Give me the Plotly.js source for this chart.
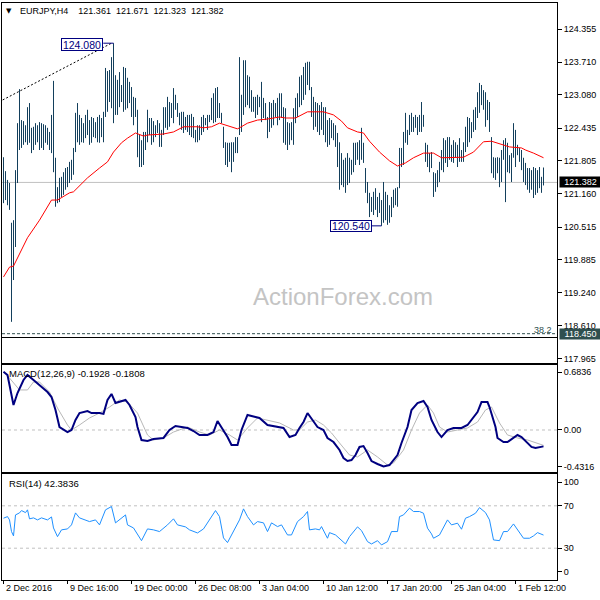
<!DOCTYPE html>
<html><head><meta charset="utf-8">
<script src="https://cdn.plot.ly/plotly-3.0.1.min.js"></script>
<style>html,body{margin:0;padding:0;background:#fff}#chart{width:600px;height:600px}</style>
</head><body><div id="chart"></div>
<script>
// EURJPY H4 bars (index 0 = 2 Dec 2016)
const highs = [
121.87,121.60,121.43,121.37,120.60,120.65,121.62,122.53,123.19,122.59,
122.57,122.49,122.84,122.92,122.44,122.46,122.53,122.49,122.55,122.53,
122.51,122.49,122.44,122.36,122.69,123.35,121.86,121.29,121.47,121.49,
121.58,121.66,121.68,121.78,121.82,122.05,122.73,122.92,122.69,122.63,
122.53,122.69,122.79,122.59,122.65,122.63,122.55,122.65,122.69,122.63,
122.75,123.60,123.54,123.56,123.81,124.08,123.46,123.37,123.52,123.27,
123.62,123.60,123.41,123.33,123.23,123.04,123.02,122.79,122.30,122.20,
122.36,122.36,122.79,122.63,122.63,122.57,122.49,122.59,122.53,122.40,
122.84,122.84,123.04,122.94,122.92,123.21,123.08,122.92,122.73,122.75,
122.75,122.65,122.69,122.69,122.71,122.65,122.40,122.49,122.49,122.65,
122.69,122.63,122.69,122.69,123.02,123.11,123.21,123.23,122.92,122.73,
122.46,122.16,122.15,122.15,122.16,122.16,122.26,122.26,123.81,123.08,
123.75,123.75,123.46,123.43,123.17,123.04,123.04,123.08,123.04,123.33,
123.02,122.92,122.65,122.94,122.92,122.98,122.92,123.02,123.11,123.11,
122.84,122.82,122.55,122.53,122.55,122.82,123.02,123.11,123.43,123.46,
123.62,123.70,123.72,123.72,123.23,123.04,122.94,122.92,122.88,122.94,
122.84,122.84,122.59,122.63,122.59,122.53,122.49,122.34,122.16,121.95,
121.82,121.86,121.95,121.86,121.82,122.15,122.15,122.16,122.20,122.44,
122.15,121.66,121.39,121.18,121.10,121.20,121.27,121.10,121.18,121.04,
121.39,121.20,121.14,120.94,121.10,121.24,121.27,121.29,122.05,122.05,
122.36,122.73,122.40,122.69,122.73,122.65,122.69,122.65,122.69,122.94,
122.69,122.15,122.11,121.95,121.97,121.58,121.56,121.62,121.78,122.01,
122.24,122.20,122.26,122.26,122.11,122.20,122.16,122.11,122.24,122.01,
122.16,122.46,122.65,122.63,122.55,122.79,122.84,123.13,123.31,123.27,
123.17,123.13,122.98,122.94,122.26,121.87,121.86,121.87,121.86,122.01,
122.20,122.24,122.15,121.91,121.95,122.53,122.40,122.11,122.05,122.01,
121.86,121.76,121.66,121.66,121.62,121.68,121.66,121.62,121.68,121.49,
121.671];
const lows = [
120.98,121.04,120.94,120.85,118.68,119.49,120.13,121.37,122.01,122.05,
122.11,122.16,122.11,122.15,121.95,122.01,122.11,122.16,122.01,122.05,
122.01,122.15,122.11,122.01,121.95,121.58,120.91,120.98,121.00,121.10,
121.14,121.24,121.29,121.37,121.43,121.53,121.97,122.16,122.11,122.16,
122.15,122.24,122.30,122.11,122.15,122.26,122.24,122.16,122.15,122.26,
122.16,122.65,122.75,122.94,122.82,122.53,122.69,122.69,122.84,122.94,
122.75,122.79,122.82,122.92,122.65,122.49,122.65,121.87,121.68,121.68,
121.72,122.01,122.16,122.30,122.11,122.16,122.26,122.34,122.07,122.07,
122.30,122.44,122.40,122.46,122.63,122.53,122.79,122.65,122.49,122.40,
122.34,122.40,122.36,122.30,122.26,122.24,122.16,122.16,122.20,122.30,
122.36,122.49,122.40,122.55,122.59,122.53,122.55,122.63,122.63,122.53,
122.05,121.72,121.68,121.78,121.58,121.78,121.95,121.95,122.30,122.36,
122.69,122.84,122.88,122.82,122.75,122.75,122.63,122.69,122.84,122.55,
122.63,122.59,122.24,122.36,122.44,122.49,122.65,122.49,122.59,122.63,
122.15,122.11,122.01,122.11,122.20,122.11,122.53,122.65,122.84,122.88,
122.98,123.08,123.27,123.17,122.65,122.40,122.46,122.36,122.30,122.40,
122.30,122.16,122.07,122.11,122.24,122.20,122.07,121.68,121.24,121.33,
121.29,121.18,121.33,121.37,121.53,121.58,121.72,121.82,121.72,121.82,
121.76,121.18,120.98,120.71,120.81,120.75,120.85,120.71,120.79,120.54,
120.60,120.65,120.56,120.60,120.71,120.89,120.94,120.91,121.27,121.68,
121.72,122.15,122.11,122.30,122.36,122.36,122.44,122.30,122.36,122.36,
122.46,121.78,121.68,121.58,121.66,121.10,121.20,121.29,121.39,121.62,
121.58,121.76,121.68,121.82,121.78,121.76,121.86,121.68,121.78,121.78,
121.78,121.97,122.07,122.16,122.24,122.36,122.40,122.63,122.73,122.88,
122.79,122.46,122.59,122.36,121.56,121.47,121.43,121.56,121.29,121.39,
121.82,121.00,121.58,121.56,121.39,121.86,121.68,121.91,121.78,121.62,
121.39,121.33,121.24,121.18,121.24,121.08,121.14,121.18,121.27,121.18,
121.323];

// Moving average (red)
const maIdx = [0,3,5,12,18,24,27,33,35,42,48,52,55,59,62,66,70,72,80,85,90,97,100,104,108,112,117,118,122,127,132,138,141,146,152,160,165,169,172,177,180,183,188,193,197,201,205,210,215,219,225,230,235,240,244,248,253,259,261,265,270];
const maVal = [119.55,119.74,119.76,120.31,120.65,121.04,121.04,121.18,121.20,121.47,121.66,121.78,121.97,122.15,122.24,122.34,122.28,122.30,122.32,122.36,122.46,122.46,122.44,122.46,122.53,122.48,122.42,122.44,122.53,122.59,122.61,122.65,122.63,122.63,122.75,122.75,122.69,122.57,122.44,122.36,122.34,122.18,121.97,121.80,121.70,121.76,121.86,121.95,121.95,121.86,121.86,121.87,121.97,122.17,122.18,122.13,122.07,122.05,122.01,121.95,121.86];

// MACD(12,26,9)
const macdIdx = [0,2,5,7,10,12,15,18,22,24,26,28,32,34,36,38,42,44,48,50,52,54,56,61,63,66,67,69,72,75,80,83,86,89,92,95,98,102,105,107,109,112,114,117,119,122,126,128,132,137,140,143,146,148,150,152,155,157,160,162,165,167,168,170,172,174,176,178,180,182,184,187,190,193,197,199,202,204,207,210,212,214,217,219,222,225,229,232,234,237,239,242,243,246,247,250,252,255,257,259,262,264,266,270];
const macdVal = [0.687,0.649,0.295,0.436,0.59,0.649,0.59,0.531,0.448,0.389,0.236,0.035,-0.024,0.0,0.118,0.2,0.224,0.2,0.2,0.19,0.354,0.425,0.318,0.354,0.295,0.153,0.035,-0.118,-0.13,-0.106,-0.094,0.0,0.047,0.035,0.024,-0.012,-0.059,-0.059,-0.024,0.106,0.035,-0.083,-0.177,-0.177,0.0,0.177,0.153,0.142,0.059,0.035,0.024,-0.083,-0.059,0.024,0.094,0.2,0.094,0.035,0.0,-0.094,-0.142,-0.2,-0.236,-0.33,-0.366,-0.354,-0.295,-0.2,-0.189,-0.271,-0.366,-0.401,-0.43,-0.413,-0.295,-0.153,0.035,0.236,0.318,0.342,0.271,0.118,-0.024,-0.083,0.0,0.024,0.024,0.059,0.118,0.212,0.33,0.33,0.271,0.035,-0.094,-0.142,-0.142,-0.094,-0.059,-0.083,-0.153,-0.2,-0.212,-0.193];
const sigIdx = [0,3,8,12,15,18,23,27,32,34,38,43,48,53,58,62,67,72,75,80,85,92,98,103,108,113,117,122,127,132,138,145,148,152,156,160,164,168,173,177,182,187,192,195,200,204,208,212,215,218,222,227,232,237,241,244,248,252,257,262,266,270];
const sigVal = [0.684,0.613,0.472,0.472,0.566,0.566,0.448,0.259,0.059,0.0,0.059,0.142,0.2,0.271,0.354,0.33,0.2,-0.059,-0.118,-0.094,-0.024,0.035,-0.024,-0.059,0.0,-0.059,-0.118,0.024,0.142,0.118,0.083,0.0,0.0,0.094,0.118,0.059,-0.035,-0.153,-0.295,-0.318,-0.236,-0.318,-0.413,-0.389,-0.236,0.0,0.2,0.295,0.2,0.035,-0.024,0.0,0.024,0.094,0.236,0.271,0.083,-0.059,-0.094,-0.118,-0.153,-0.181];

// RSI(14)
const rsiIdx = [0,2,3,4,5,6,8,9,11,12,13,15,17,19,22,24,25,27,29,32,34,36,38,41,43,46,48,51,54,56,58,61,62,65,69,72,75,78,82,85,87,91,93,97,100,103,106,108,110,112,115,118,120,122,125,127,130,132,134,137,139,142,144,146,147,150,152,153,156,158,159,162,163,166,168,171,173,175,177,179,182,184,187,189,192,194,197,198,200,203,205,208,210,212,214,215,218,222,224,227,229,231,233,236,238,241,243,245,248,250,252,255,257,260,263,265,267,270];
const rsiVal = [58.3,59.8,56.7,45.7,41.6,61.4,63.3,65.5,63.6,66.2,57.7,58.6,56.7,58.6,56.7,59.5,49.1,40.9,47.3,48.2,52.0,63.3,58.6,56.7,55.1,56.7,52.0,66.2,69.3,53.9,56.7,61.4,52.0,49.1,37.1,48.2,47.3,45.7,52.0,57.7,52.0,50.1,47.3,44.4,48.2,56.7,65.5,59.8,39.7,35.3,45.7,56.7,67.1,59.8,52.0,55.1,53.9,45.7,53.9,50.4,52.0,42.5,42.5,52.0,55.1,59.8,64.6,47.3,48.2,47.3,50.4,39.4,44.7,42.5,38.8,34.0,40.9,45.7,50.1,46.6,36.2,34.0,37.1,33.1,36.2,45.7,45.7,59.8,61.4,67.8,64.6,64.6,63.0,48.9,43.5,39.4,42.5,56.7,52.0,53.6,47.9,58.3,59.8,63.0,68.3,63.6,56.7,37.8,37.1,45.7,45.7,52.9,47.3,39.4,39.4,41.6,44.7,42.4];

// Axis labels
const priceTicks = [124.355,123.710,123.080,122.435,121.805,121.160,120.515,119.885,119.240,118.610,117.965];
const dateIdx = [0,32,64,96,128,160,192,224,256];
const dateLabels = ['2 Dec 2016','9 Dec 16:00','19 Dec 00:00','26 Dec 08:00','3 Jan 04:00','10 Jan 12:00','17 Jan 20:00','25 Jan 04:00','1 Feb 12:00'];
const lastPrice = 121.382, fibPrice = 118.450, hiPrice = 124.080, loPrice = 120.540;

const FONT = 'Liberation Sans, Arial, sans-serif';
const NB = '\u00a0';
const barX = [], barY = [];
for (let i = 0; i < highs.length; i++) { barX.push(i, i, null); barY.push(lows[i], highs[i], null); }

const traces = [
  {type:'scatter', mode:'lines', x:barX, y:barY, line:{color:'#133f5c', width:1}, xaxis:'x', yaxis:'y', hoverinfo:'skip'},
  {type:'scatter', mode:'lines', x:maIdx, y:maVal, line:{color:'#ff0000', width:1}, xaxis:'x', yaxis:'y', hoverinfo:'skip'},
  {type:'scatter', mode:'lines', x:sigIdx, y:sigVal, line:{color:'#b8b8b8', width:1}, xaxis:'x2', yaxis:'y2', hoverinfo:'skip'},
  {type:'scatter', mode:'lines', x:macdIdx, y:macdVal, line:{color:'#000080', width:2}, xaxis:'x2', yaxis:'y2', hoverinfo:'skip'},
  {type:'scatter', mode:'lines', x:rsiIdx, y:rsiVal, line:{color:'#1e90ff', width:1}, xaxis:'x3', yaxis:'y3', hoverinfo:'skip'}
];

const xBase = {range:[-0.75,276.75], showline:true, mirror:true, linecolor:'#000', linewidth:1, showgrid:false, zeroline:false, showticklabels:false, ticks:''};
const yBase = {side:'right', showline:true, mirror:true, linecolor:'#000', linewidth:1, showgrid:false, zeroline:false, ticks:'outside', ticklen:4, tickcolor:'#000', tickfont:{family:FONT, size:9, color:'#000'}};

const titleText = 'EURJPY,H4' + NB+NB+NB+NB + ['121.361','121.671','121.323','121.382'].join(NB+NB);

const annotations = [
  {xref:'paper', yref:'paper', x:0.0135, y:0.9866, xanchor:'center', yanchor:'middle', text:'▼', showarrow:false, font:{family:'DejaVu Sans', size:7, color:'#000'}},
  {xref:'paper', yref:'paper', x:0.0288, y:0.9866, xanchor:'left', yanchor:'middle', text:titleText, showarrow:false, font:{family:FONT, size:9, color:'#000'}},
  {xref:'paper', yref:'paper', x:0.0085, y:0.3582, xanchor:'left', yanchor:'middle', text:'MACD(12,26,9)' + NB + '-0.1928' + NB + '-0.1808', showarrow:false, font:{family:FONT, size:9.5, color:'#000'}},
  {xref:'paper', yref:'paper', x:0.0085, y:0.1664, xanchor:'left', yanchor:'middle', text:'RSI(14)' + NB + '42.3836', showarrow:false, font:{family:FONT, size:9.5, color:'#000'}},
  {xref:'paper', yref:'paper', x:0.6144, y:0.4922, xanchor:'center', yanchor:'middle', text:'ActionForex.com', showarrow:false, font:{family:FONT, size:24, color:'#c4c4c4'}},
  {xref:'x', yref:'y', x:39.35, y:hiPrice, yshift:-1, text:'124.080', showarrow:false, bgcolor:'#fff', bordercolor:'#000080', borderwidth:1, borderpad:0, width:40, height:11, font:{family:FONT, size:10.5, color:'#000080'}},
  {xref:'x', yref:'y', x:173.5, y:loPrice, text:'120.540', showarrow:false, bgcolor:'#fff', bordercolor:'#000080', borderwidth:1, borderpad:0, width:40, height:10, font:{family:FONT, size:10.5, color:'#000080'}},
  {xref:'paper', yref:'y', x:1, xshift:2, xanchor:'left', y:lastPrice, yanchor:'middle', text:'121.382', showarrow:false, bgcolor:'#000', borderpad:0, width:41, height:10, font:{family:FONT, size:9, color:'#fff'}},
  {xref:'paper', yref:'y', x:1, xshift:2, xanchor:'left', y:fibPrice, yanchor:'middle', text:'118.450', showarrow:false, bgcolor:'#2f4f4f', borderpad:0, width:41, height:10, font:{family:FONT, size:9, color:'#fff'}},
  {xref:'x', yref:'y', x:275.2, y:fibPrice, xanchor:'right', yanchor:'bottom', yshift:-3, text:'38.2', showarrow:false, font:{family:FONT, size:9, color:'#2f4f4f'}}
];
dateIdx.forEach((d, k) => annotations.push({xref:'x3', yref:'paper', x:d, y:-0.0139, xanchor:'left', yanchor:'middle', text:dateLabels[k], showarrow:false, font:{family:FONT, size:9, color:'#000'}}));

const shapes = [
  {type:'line', xref:'paper', yref:'y', x0:0, x1:1, y0:lastPrice, y1:lastPrice, line:{color:'#c0c0c0', width:1}, layer:'below'},
  {type:'line', xref:'paper', yref:'y', x0:0, x1:1, y0:fibPrice, y1:fibPrice, line:{color:'#2f4f4f', width:1, dash:'3px,2px'}},
  {type:'line', xref:'paper', yref:'y', x0:0, x1:1, y0:118.376, y1:118.376, line:{color:'#000', width:1}},
  {type:'line', xref:'x', yref:'y', x0:-0.4, y0:122.98, x1:54, y1:hiPrice, line:{color:'#000', width:1, dash:'2px,2px'}},
  {type:'line', xref:'x', yref:'y', x0:49.9, y0:hiPrice, x1:55, y1:hiPrice, line:{color:'#000080', width:1}},
  {type:'line', xref:'x', yref:'y', x0:184.1, y0:loPrice, x1:189, y1:loPrice, line:{color:'#000080', width:1}},
  {type:'line', xref:'paper', yref:'y2', x0:0, x1:1, y0:0, y1:0, line:{color:'#c0c0c0', width:1, dash:'3px,3px'}, layer:'below'},
  {type:'line', xref:'paper', yref:'y3', x0:0, x1:1, y0:70, y1:70, line:{color:'#c0c0c0', width:1, dash:'3px,3px'}, layer:'below'},
  {type:'line', xref:'paper', yref:'y3', x0:0, x1:1, y0:30, y1:30, line:{color:'#c0c0c0', width:1, dash:'3px,3px'}, layer:'below'}
];

const layout = {
  width:600, height:600, margin:{l:2, r:43, t:3, b:20, pad:0},
  paper_bgcolor:'#fff', plot_bgcolor:'#fff', showlegend:false, hovermode:false,
  font:{family:FONT, size:9, color:'#000'},
  xaxis: Object.assign({}, xBase, {anchor:'y'}),
  xaxis2: Object.assign({}, xBase, {anchor:'y2', matches:'x'}),
  xaxis3: Object.assign({}, xBase, {anchor:'y3', matches:'x', ticks:'outside', ticklen:3, tickcolor:'#000', tickvals:dateIdx}),
  yaxis: Object.assign({}, yBase, {anchor:'x', domain:[0.37608,1], range:[117.882,124.859], tickvals:priceTicks, ticktext:priceTicks.map(v=>v.toFixed(3))}),
  yaxis2: Object.assign({}, yBase, {anchor:'x2', domain:[0.18718,0.37262], range:[-0.4953,0.7665], tickvals:[0.6836,0,-0.4316], ticktext:['0.6836','0.00','-0.4316']}),
  yaxis3: Object.assign({}, yBase, {anchor:'x3', domain:[0,0.18371], range:[0,100], tickvals:[92.4,70,30,7.6], ticktext:['100','70','30','0']}),
  annotations: annotations,
  shapes: shapes
};

Plotly.newPlot('chart', traces, layout, {staticPlot:true, displayModeBar:false});
</script>
</body></html>
